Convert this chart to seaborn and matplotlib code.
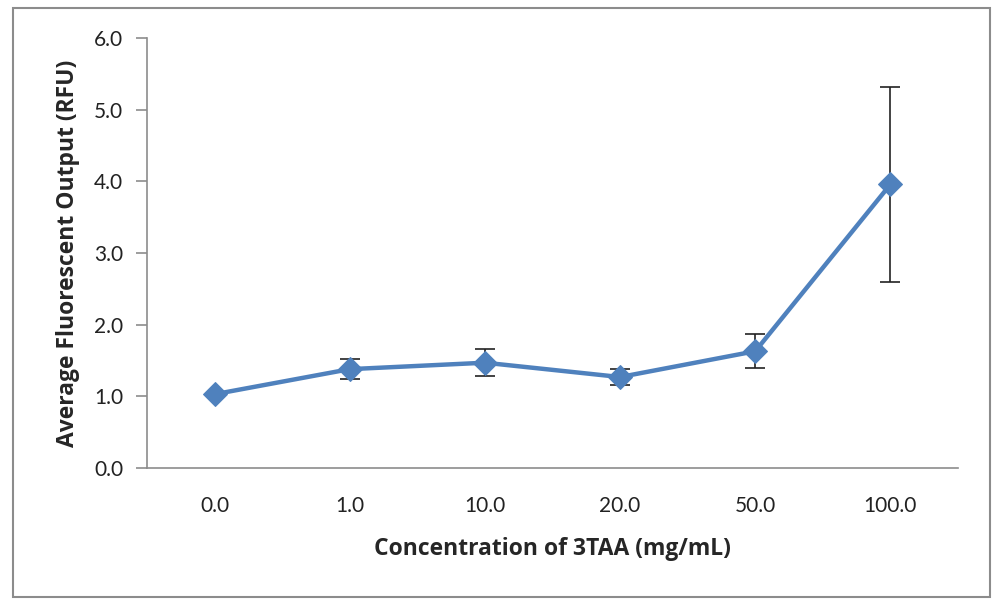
import numpy as np
import pandas as pd
import matplotlib
matplotlib.use("Agg")
import matplotlib.pyplot as plt
import seaborn as sns
from matplotlib.patches import Rectangle

concentration = ["0.0", "1.0", "10.0", "20.0", "50.0", "100.0"]
fluorescence = [1.03, 1.38, 1.47, 1.27, 1.63, 3.96]
error = [0.0, 0.14, 0.19, 0.11, 0.24, 1.36]

df = pd.DataFrame({"conc": concentration, "rfu": fluorescence, "err": error})

sns.set_style("white")
plt.rcParams["font.family"] = ["Lato", "DejaVu Sans"]

fig = plt.figure(figsize=(10, 6.07), dpi=100)
ax = fig.add_axes([0.147, 0.229, 0.811, 0.708])

pos = np.arange(len(df))
ax.errorbar(pos, df["rfu"], yerr=df["err"], fmt="none", ecolor="#222222",
            elinewidth=1.2, capsize=7, capthick=1.2, zorder=1)
sns.lineplot(data=df, x="conc", y="rfu", sort=False, ax=ax, color="#4F81BD",
             linewidth=3.2, marker="D", markersize=12, markeredgecolor="#4F81BD",
             zorder=2)

ax.set_xlim(-0.5, 5.5)
ax.set_ylim(0, 6)
ax.set_yticks(np.arange(0, 6.1, 1.0))
ax.set_yticklabels([f"{v:.1f}" for v in np.arange(0, 6.1, 1.0)])
ax.set_xticks(pos)
ax.set_xticklabels(concentration)

for s in ["top", "right"]:
    ax.spines[s].set_visible(False)
for s in ["left", "bottom"]:
    ax.spines[s].set_color("#8c8c8c")
    ax.spines[s].set_linewidth(1.2)

ax.tick_params(axis="y", which="both", direction="out", length=8, width=1.2,
               color="#8c8c8c", labelsize=15, labelcolor="#222222", pad=9, left=True)
ax.tick_params(axis="x", length=0, labelsize=15, labelcolor="#222222", pad=20)

ax.set_xlabel("Concentration of 3TAA (mg/mL)", fontsize=16.5, family="Open Sans",
              fontweight="bold", labelpad=15)
ax.set_ylabel("Average Fluorescent Output (RFU)", fontsize=16.5, family="Open Sans",
              fontweight="bold", labelpad=10)

fig.patches.append(Rectangle((0.013, 0.016), 0.977, 0.97, transform=fig.transFigure,
                             fill=False, edgecolor="#8c8c8c", linewidth=1.5))

fig.savefig("out.png", dpi=100)
